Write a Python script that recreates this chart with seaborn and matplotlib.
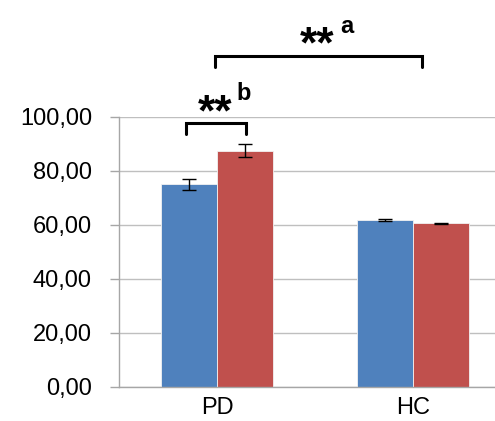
import numpy as np
import pandas as pd
import matplotlib
matplotlib.use("Agg")
import matplotlib.pyplot as plt
from matplotlib.ticker import FuncFormatter
import seaborn as sns

# Məlumatlar
groups = ["PD", "HC"]
series = ["A", "B"]
values_a = [75.1, 61.9]
values_b = [87.5, 60.6]
err_a = [2.1, 0.5]
err_b = [2.4, 0.3]

df = pd.DataFrame({
    "group": groups * 2,
    "series": [series[0]] * 2 + [series[1]] * 2,
    "value": values_a + values_b,
    "err": err_a + err_b,
})

sns.set_style("white")
plt.rcParams["font.family"] = ["Liberation Sans", "DejaVu Sans"]
plt.rcParams["text.color"] = "black"
plt.rcParams["xtick.labelcolor"] = "black"
plt.rcParams["ytick.labelcolor"] = "black"

fig = plt.figure(figsize=(4.95, 4.21), dpi=100)
ax = fig.add_axes([119 / 495, 34 / 421, 392 / 495, 270 / 421])

sns.barplot(data=df, x="group", y="value", hue="series", order=groups,
            hue_order=series, palette=["#4F81BD", "#C0504D"], saturation=1,
            width=0.571, errorbar=None, edgecolor="#F2F2F2", linewidth=0.6,
            legend=False, ax=ax, zorder=2)

# Xəta xətləri - sütunların mərkəzlərinə görə
for patch, (_, row) in zip(ax.patches, df.iterrows()):
    cx = patch.get_x() + patch.get_width() / 2
    ax.errorbar(cx, row["value"], yerr=row["err"], fmt="none", ecolor="black",
                elinewidth=1, capsize=4.7, capthick=1, zorder=3)

ax.set_xlim(-0.5, 1.5)
ax.set_ylim(0, 100)
ax.set_yticks(np.arange(0, 101, 20))
ax.yaxis.set_major_formatter(FuncFormatter(lambda v, p: f"{v:.2f}".replace(".", ",")))
ax.set_xlabel("")
ax.set_ylabel("")
ax.yaxis.grid(True, color="#BFBFBF", linewidth=1.0, zorder=0)
ax.set_axisbelow(True)

for side in ["top", "right"]:
    ax.spines[side].set_visible(False)
for side in ["left", "bottom"]:
    ax.spines[side].set_color("#A6A6A6")
    ax.spines[side].set_linewidth(1.0)

ax.tick_params(axis="y", direction="out", length=6.5, width=1, color="#A6A6A6",
               left=True, labelsize=17, pad=13, labelcolor="black")
ax.tick_params(axis="x", length=0, labelsize=17, pad=7, labelcolor="black")

# Mötərizələr və işarələr
def bracket(x0, x1, y_top, y_bot):
    ax.plot([x0, x0, x1, x1], [y_bot, y_top, y_top, y_bot], color="black",
            linewidth=2.2, clip_on=False, solid_joinstyle="miter")

bracket(-0.010, 1.046, 122.6, 118.5)
bracket(-0.158, 0.148, 97.8, 93.7)

ax.text(0.597, 121.9, "**", ha="right", va="baseline", fontsize=32,
        fontweight="bold", color="black", clip_on=False)
ax.text(0.628, 131.1, "a", ha="left", va="baseline", fontsize=17,
        fontweight="bold", color="black", clip_on=False)
ax.text(0.077, 96.9, "**", ha="right", va="baseline", fontsize=32,
        fontweight="bold", color="black", clip_on=False)
ax.text(0.097, 106.3, "b", ha="left", va="baseline", fontsize=17,
        fontweight="bold", color="black", clip_on=False)

fig.savefig("out.png", dpi=100)
